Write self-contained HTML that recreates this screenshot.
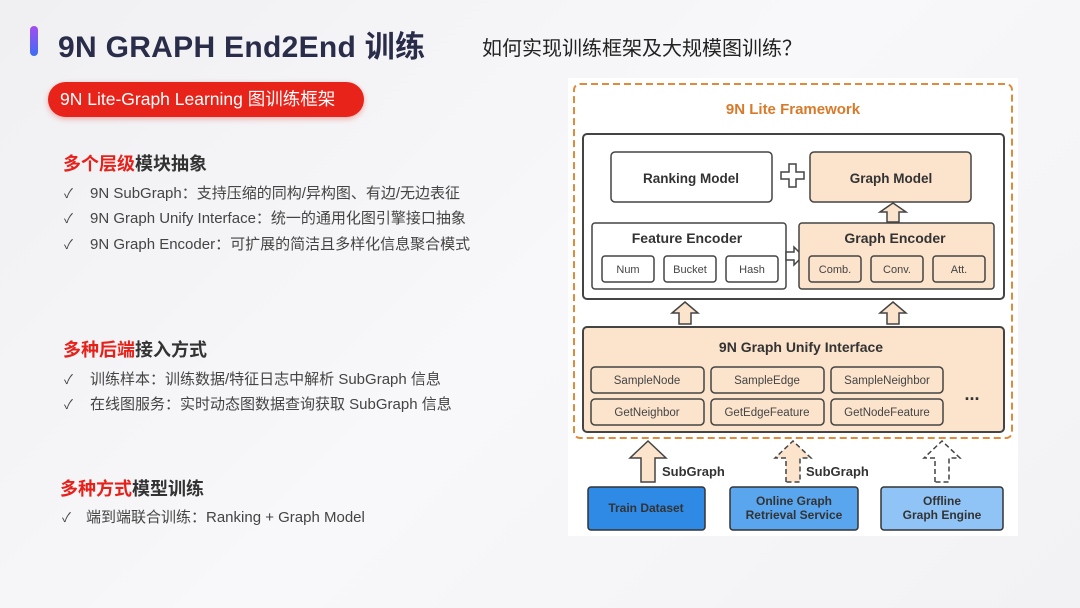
<!DOCTYPE html>
<html><head><meta charset="utf-8"><style>
*{margin:0;padding:0;box-sizing:border-box}
body{width:1080px;height:608px;overflow:hidden;background:linear-gradient(135deg,#f0f0f2 0%,#f8f8fa 50%,#f2f2f4 100%);font-family:"Liberation Sans","Noto Sans CJK SC",sans-serif;position:relative}
.a{position:absolute;white-space:nowrap}
.h{font-size:18px;font-weight:bold;color:#333}
.h span{color:#e8201a}
.b{font-size:15px;color:#444}
.ck{font-size:13px;color:#444}
</style></head><body>
<div class="a" style="left:30px;top:26px;width:8px;height:30px;border-radius:4px;background:linear-gradient(#a64cf0,#3b6df5)"></div>
<div class="a" style="left:58px;top:22px;font-size:30px;font-weight:bold;color:#2a2d4a;letter-spacing:0.3px">9N GRAPH End2End 训练</div>
<div class="a" style="left:482px;top:32px;font-size:20px;color:#222">如何实现训练框架及大规模图训练？</div>
<div class="a" style="left:48px;top:82px;width:316px;height:35px;border-radius:18px;background:#e8231a;box-shadow:0 2px 6px rgba(232,35,26,.35);color:#fff;font-size:17.5px;line-height:35px;padding-left:12px">9N Lite-Graph Learning 图训练框架</div>

<div class="a h" style="left:63px;top:150px"><span>多个层级</span>模块抽象</div>
<div class="a ck" style="left:64px;top:183px">✓</div><div class="a b" style="left:90px;top:182px">9N SubGraph：支持压缩的同构/异构图、有边/无边表征</div>
<div class="a ck" style="left:64px;top:208px">✓</div><div class="a b" style="left:90px;top:207px">9N Graph Unify Interface：统一的通用化图引擎接口抽象</div>
<div class="a ck" style="left:64px;top:234px">✓</div><div class="a b" style="left:90px;top:233px">9N Graph Encoder：可扩展的简洁且多样化信息聚合模式</div>

<div class="a h" style="left:63px;top:336px"><span>多种后端</span>接入方式</div>
<div class="a ck" style="left:64px;top:369px">✓</div><div class="a b" style="left:90px;top:368px">训练样本：训练数据/特征日志中解析 SubGraph 信息</div>
<div class="a ck" style="left:64px;top:394px">✓</div><div class="a b" style="left:90px;top:393px">在线图服务：实时动态图数据查询获取 SubGraph 信息</div>

<div class="a h" style="left:60px;top:475px"><span>多种方式</span>模型训练</div>
<div class="a ck" style="left:62px;top:507px">✓</div><div class="a b" style="left:86px;top:506px">端到端联合训练：Ranking + Graph Model</div>

<svg class="a" style="left:0;top:0" width="1080" height="608" font-family="Liberation Sans, sans-serif">
<rect x="568" y="78" width="450" height="458" fill="#fff"/>
<rect x="574" y="84" width="438" height="354" rx="6" fill="none" stroke="#e08a3c" stroke-width="2" stroke-dasharray="7,4"/>
<text x="793" y="114" text-anchor="middle" font-size="15" font-weight="bold" fill="#d87a2a">9N Lite Framework</text>
<rect x="583" y="134" width="421" height="165" rx="4" fill="#fff" stroke="#444" stroke-width="2"/>
<rect x="611" y="152" width="161" height="50" rx="4" fill="#fff" stroke="#444" stroke-width="1.5"/>
<text x="691" y="183" text-anchor="middle" font-size="13.5" font-weight="bold" fill="#333">Ranking Model</text>
<path d="M781,172h8v-8h7v8h8v7h-8v8h-7v-8h-8z" fill="#fff" stroke="#444" stroke-width="1.5"/>
<rect x="810" y="152" width="161" height="50" rx="4" fill="#fbe3cc" stroke="#444" stroke-width="1.5"/>
<text x="891" y="183" text-anchor="middle" font-size="13.5" font-weight="bold" fill="#333">Graph Model</text>
<path d="M887,222v-10h-7l13,-9l13,9h-7v10z" fill="#fbe3cc" stroke="#444" stroke-width="1.5"/>
<rect x="592" y="223" width="194" height="66" rx="3" fill="#fff" stroke="#444" stroke-width="1.5"/>
<text x="687" y="243" text-anchor="middle" font-size="14" font-weight="bold" fill="#333">Feature Encoder</text>
<g font-size="11" fill="#444" text-anchor="middle">
<rect x="602" y="256" width="52" height="26" rx="3" fill="#fff" stroke="#444" stroke-width="1.5"/><text x="628" y="273">Num</text>
<rect x="664" y="256" width="52" height="26" rx="3" fill="#fff" stroke="#444" stroke-width="1.5"/><text x="690" y="273">Bucket</text>
<rect x="726" y="256" width="52" height="26" rx="3" fill="#fff" stroke="#444" stroke-width="1.5"/><text x="752" y="273">Hash</text>
</g>
<path d="M786,252h8v-5l9,9l-9,9v-5h-8z" fill="#fff" stroke="#444" stroke-width="1.5"/>
<rect x="799" y="223" width="195" height="66" rx="3" fill="#fbe3cc" stroke="#444" stroke-width="1.5"/>
<text x="895" y="243" text-anchor="middle" font-size="14" font-weight="bold" fill="#333">Graph Encoder</text>
<g font-size="11" fill="#444" text-anchor="middle">
<rect x="809" y="256" width="52" height="26" rx="3" fill="#fbe3cc" stroke="#444" stroke-width="1.5"/><text x="835" y="273">Comb.</text>
<rect x="871" y="256" width="52" height="26" rx="3" fill="#fbe3cc" stroke="#444" stroke-width="1.5"/><text x="897" y="273">Conv.</text>
<rect x="933" y="256" width="52" height="26" rx="3" fill="#fbe3cc" stroke="#444" stroke-width="1.5"/><text x="959" y="273">Att.</text>
</g>
<path d="M679,324v-11h-7l13,-11l13,11h-7v11z" fill="#fbe3cc" stroke="#444" stroke-width="1.5"/>
<path d="M887,324v-11h-7l13,-11l13,11h-7v11z" fill="#fbe3cc" stroke="#444" stroke-width="1.5"/>
<rect x="583" y="327" width="421" height="105" rx="4" fill="#fbe3cc" stroke="#444" stroke-width="2"/>
<text x="801" y="352" text-anchor="middle" font-size="14" font-weight="bold" fill="#333">9N Graph Unify Interface</text>
<g font-size="11.5" fill="#444" text-anchor="middle">
<rect x="591" y="367" width="113" height="26" rx="4" fill="#fbe3cc" stroke="#444" stroke-width="1.5"/><text x="647" y="384">SampleNode</text>
<rect x="711" y="367" width="113" height="26" rx="4" fill="#fbe3cc" stroke="#444" stroke-width="1.5"/><text x="767" y="384">SampleEdge</text>
<rect x="831" y="367" width="112" height="26" rx="4" fill="#fbe3cc" stroke="#444" stroke-width="1.5"/><text x="887" y="384">SampleNeighbor</text>
<rect x="591" y="399" width="113" height="26" rx="4" fill="#fbe3cc" stroke="#444" stroke-width="1.5"/><text x="647" y="416">GetNeighbor</text>
<rect x="711" y="399" width="113" height="26" rx="4" fill="#fbe3cc" stroke="#444" stroke-width="1.5"/><text x="767" y="416">GetEdgeFeature</text>
<rect x="831" y="399" width="112" height="26" rx="4" fill="#fbe3cc" stroke="#444" stroke-width="1.5"/><text x="887" y="416">GetNodeFeature</text>
</g>
<text x="972" y="400" text-anchor="middle" font-size="18" font-weight="bold" fill="#333">...</text>
<path d="M641,482v-24h-11l18,-17l18,17h-11v24z" fill="#fbe3cc" stroke="#444" stroke-width="1.5"/>
<text x="662" y="476" font-size="13" font-weight="bold" fill="#333">SubGraph</text>
<path d="M786,482v-24h-11l18,-17l18,17h-11v24z" fill="#fbe3cc" stroke="#444" stroke-width="1.5" stroke-dasharray="5,3"/>
<text x="806" y="476" font-size="13" font-weight="bold" fill="#333">SubGraph</text>
<path d="M935,482v-24h-11l18,-17l18,17h-11v24z" fill="#fff" stroke="#444" stroke-width="1.5" stroke-dasharray="5,3"/>
<g font-size="12" font-weight="bold" fill="#333" text-anchor="middle">
<rect x="588" y="487" width="117" height="43" rx="3" fill="#2f8ae6" stroke="#333" stroke-width="1.5"/><text x="646" y="512">Train Dataset</text>
<rect x="730" y="487" width="128" height="43" rx="3" fill="#5aa6ee" stroke="#333" stroke-width="1.5"/><text x="794" y="505">Online Graph</text><text x="794" y="519">Retrieval Service</text>
<rect x="881" y="487" width="122" height="43" rx="3" fill="#90c4f6" stroke="#333" stroke-width="1.5"/><text x="942" y="505">Offline</text><text x="942" y="519">Graph Engine</text>
</g>
</svg>
</body></html>
